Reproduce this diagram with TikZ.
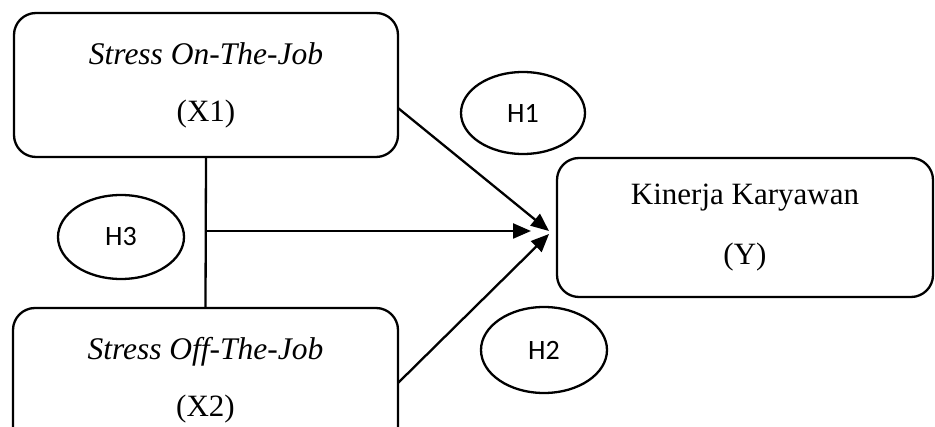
\documentclass[tikz,border=0pt]{standalone}
\usepackage{fontspec}
\setmainfont{Liberation Serif}
\newfontfamily\hfont{Carlito}
\usetikzlibrary{shapes.geometric,arrows.meta}
\newcommand{\itl}[1]{{\fontsize{31.5}{32}\selectfont\itshape #1}}
\begin{document}
\begin{tikzpicture}[x=1pt,y=-1pt,line width=2.3pt,
  varbox/.style={draw,rounded corners=22pt,align=center,inner sep=0pt,
    font=\fontsize{31}{57}\selectfont},
  hyp/.style={draw,ellipse,inner sep=0pt,font=\hfont\fontsize{28}{30}\selectfont},
  arr/.style={-{Triangle[length=18pt,width=15pt]}}]
\useasboundingbox (0,0) rectangle (935,427);
\clip (0,0) rectangle (935,427);
\node[varbox,minimum width=384pt,minimum height=144pt] (X1) at (206,85)
  {\itl{Stress On-The-Job}\\(X1)};
\node[varbox,minimum width=385pt,minimum height=144pt] (X2) at (205.5,380)
  {\itl{Stress Off-The-Job}\\(X2)};
\node[varbox,minimum width=376pt,minimum height=139pt,
  font=\fontsize{31}{60}\selectfont] (Y) at (745,227.5)
  {Kinerja Karyawan\\(Y)};
\node[hyp,minimum width=124pt,minimum height=82pt] (H1) at (523,113) {H1};
\node[hyp,minimum width=126pt,minimum height=84pt] (H3) at (121,237) {H3};
\node[hyp,minimum width=126pt,minimum height=86pt] (H2) at (544,350) {H2};
\coordinate (j) at (X1.south |- 0,231);
\coordinate (s1) at (398,108);
\coordinate (s2) at (398,383);
\coordinate (t1) at (549,231);
\coordinate (t2) at (549,234);
\coordinate (th) at (531,231);
\draw (X1.south) -- (X2.north);
\draw[arr] (j) -- (th);
\draw[arr] (s1) -- (t1);
\draw[arr] (s2) -- (t2);
\end{tikzpicture}
\end{document}
